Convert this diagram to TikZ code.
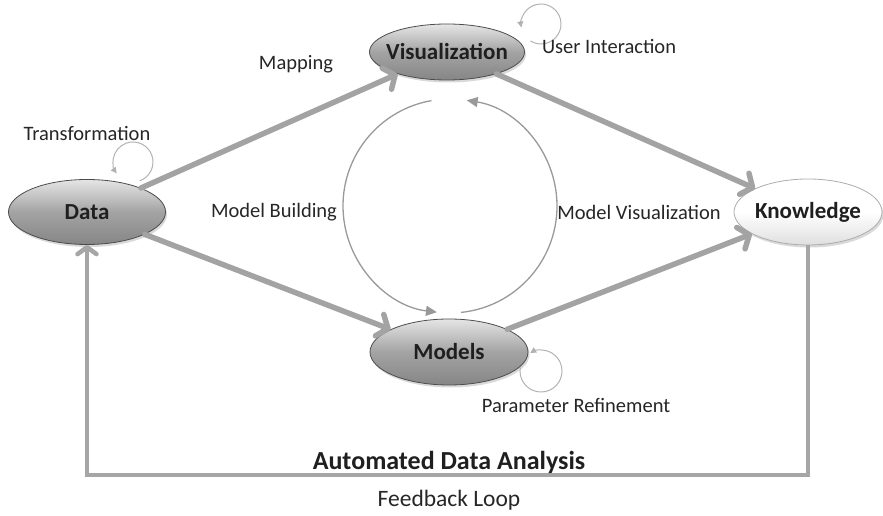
\documentclass[tikz,border=0pt]{standalone}
\usepackage{fontspec}
\setmainfont{Carlito}
\usetikzlibrary{arrows.meta,shapes.geometric,shadows}

\begin{document}
\begin{tikzpicture}[x=1pt,y=1pt,
  stage/.style={ellipse, draw=gray!60!black, line width=0.8pt, inner sep=0pt,
    font=\fontsize{23}{26}\selectfont\bfseries, text=black!88,
    top color=gray!20, bottom color=gray!95, middle color=gray!72,
    drop shadow={opacity=0.3, shadow xshift=1.5pt, shadow yshift=-2.5pt}},
  goal/.style={stage, draw=gray!65, top color=white, bottom color=gray!25, middle color=white},
  flow/.style={draw=gray!72, line width=5.5pt, line cap=round,
    -{Straight Barb[length=9pt, width=23pt, round]}},
  back/.style={draw=gray!70, line width=4.5pt, line join=miter,
    -{Straight Barb[length=7pt, width=19pt, round]}},
  thin/.style={draw=gray!80, line width=1.3pt,
    -{Triangle[length=11pt, width=10pt]}},
  selfloop/.style={draw=gray!60, line width=1pt,
    -{Triangle[length=6pt, width=6pt]}},
  lab/.style={font=\fontsize{20.5}{24}\selectfont, text=black!85},
  title/.style={font=\fontsize{26}{30}\selectfont\bfseries, text=black!88}
]
\useasboundingbox (0,0) rectangle (883,516);

% the four stages of the process
\node[stage, minimum width=157pt, minimum height=65pt] (data) at (87,304) {\makebox[0pt]{Data}};
\node[stage, minimum width=155pt, minimum height=56pt] (vis) at (447,464) {\makebox[0pt]{Visualization}};
\node[stage, minimum width=158pt, minimum height=66pt] (mod) at (449,164) {\makebox[0pt]{Models}};
\node[goal, minimum width=148pt, minimum height=66pt] (know) at (808,304) {\makebox[0pt]{Knowledge}};

% main flows
\draw[flow] (data) -- (vis);
\draw[flow] (vis) -- (know);
\draw[flow] (data) -- (mod);
\draw[flow] (mod) -- (know);

% feedback loop along the bottom
\coordinate (fbr) at (808,41);
\coordinate (fbl) at (87,41);
\draw[back] (know.south) -- (fbr) -- (fbl) -- (data.south);

% model building / model visualization cycle
\coordinate (cyc) at (450,310);
\draw[thin] ([shift={(100:107)}]cyc) arc[start angle=100, end angle=263, radius=107];
\draw[thin] ([shift={(-84:107)}]cyc) arc[start angle=-84, end angle=81, radius=107];

% self loops
\coordinate (tl) at (133,354);
\coordinate (ui) at (541,492);
\coordinate (pr) at (541,145);
\draw[selfloop] ([shift={(-70:20)}]tl) arc[start angle=-70, end angle=215, radius=20];
\draw[selfloop] ([shift={(-122:20)}]ui) arc[start angle=-122, end angle=190, radius=20];
\draw[selfloop] ([shift={(170:21)}]pr) arc[start angle=170, end angle=481, radius=21];

% labels
\node[lab] (ltrans) at (87,383) {Transformation};
\node[lab] (lmap) at (296,452) {Mapping};
\node[lab] (luser) at (609,470) {User Interaction};
\node[lab] (lbuild) at (274,304) {Model Building};
\node[lab] (lmvis) at (639,304) {Model Visualization};
\node[lab] (lparam) at (576,111) {Parameter Refinement};
\node[title] (lauto) at (449,54) {Automated Data Analysis};
\node[lab, font=\fontsize{23.5}{27}\selectfont] (lfeed) at (449,16) {Feedback Loop};
\end{tikzpicture}
\end{document}
